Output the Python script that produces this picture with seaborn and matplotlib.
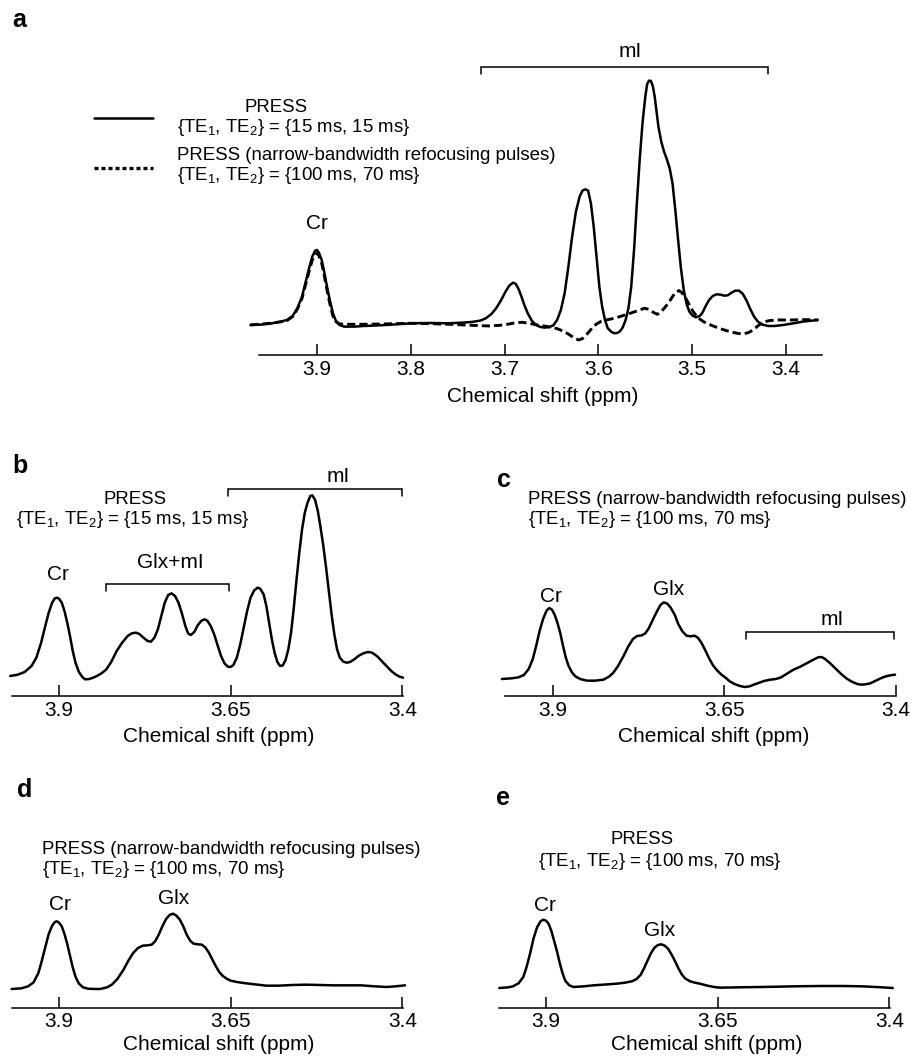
import numpy as np
import pandas as pd
import matplotlib
matplotlib.use("Agg")
import matplotlib.pyplot as plt
from matplotlib.lines import Line2D
import seaborn as sns

# ---------------- data ----------------
# Panel a: PRESS TE 15/15 (solid) and narrow-band PRESS TE 100/70 (dashed)
a_ppm_solid = [3.971, 3.960, 3.950, 3.940, 3.932, 3.926, 3.921, 3.916, 3.912, 3.908,
               3.905, 3.902, 3.900, 3.898, 3.895, 3.892, 3.889, 3.886, 3.883, 3.880,
               3.876, 3.871, 3.860, 3.850, 3.840, 3.820, 3.800, 3.780, 3.760, 3.745,
               3.735, 3.726, 3.720, 3.714, 3.709, 3.704, 3.699, 3.695, 3.691, 3.688,
               3.685, 3.682, 3.679, 3.675, 3.671, 3.667, 3.662, 3.657, 3.652, 3.648,
               3.644, 3.640, 3.636, 3.632, 3.628, 3.624, 3.620, 3.617, 3.614, 3.611,
               3.608, 3.605, 3.602, 3.599, 3.596, 3.593, 3.590, 3.586, 3.583, 3.580,
               3.577, 3.574, 3.571, 3.568, 3.565, 3.562, 3.559, 3.556, 3.553, 3.550,
               3.548, 3.546, 3.544, 3.542, 3.540, 3.538, 3.536, 3.533, 3.530, 3.527,
               3.524, 3.521, 3.518, 3.515, 3.512, 3.509, 3.506, 3.503, 3.500, 3.496,
               3.492, 3.489, 3.486, 3.482, 3.478, 3.474, 3.470, 3.466, 3.462, 3.458,
               3.454, 3.450, 3.446, 3.442, 3.438, 3.434, 3.430, 3.425, 3.419, 3.412,
               3.403, 3.392, 3.382, 3.366]
a_solid = [-5, -4, -1, 4, 10, 22, 45, 80, 125, 170,
           200, 218, 220, 212, 190, 150, 105, 65, 30, 8,
           -5, -10, -10, -8, -7, -4, 0, 1, 0, 2,
           4, 8, 15, 28, 45, 68, 95, 113, 122, 118,
           102, 80, 55, 28, 8, -4, -11, -13, -11, -6,
           10, 40, 90, 170, 260, 335, 380, 398, 402, 398,
           360, 290, 200, 110, 50, 10, -15, -26, -30, -29,
           -24, -12, 10, 45, 110, 220, 360, 490, 600, 680,
           718, 728, 727, 712, 680, 635, 590, 545, 515, 492,
           465, 420, 340, 250, 165, 100, 58, 35, 24, 18,
           22, 32, 50, 70, 82, 87, 86, 83, 84, 92,
           98, 98, 88, 68, 42, 20, 5, -4, -8, -8,
           -5, 0, 5, 10]
a_ppm_dash = [3.971, 3.950, 3.940, 3.932, 3.926, 3.921, 3.916, 3.912, 3.908, 3.905,
              3.902, 3.900, 3.898, 3.895, 3.892, 3.889, 3.886, 3.883, 3.880, 3.876,
              3.870, 3.850, 3.830, 3.800, 3.780, 3.758, 3.735, 3.717, 3.705, 3.695,
              3.688, 3.681, 3.674, 3.667, 3.660, 3.652, 3.644, 3.637, 3.631, 3.626,
              3.621, 3.617, 3.612, 3.607, 3.602, 3.597, 3.590, 3.583, 3.575, 3.566,
              3.558, 3.551, 3.546, 3.541, 3.537, 3.533, 3.529, 3.525, 3.521, 3.517,
              3.514, 3.511, 3.507, 3.503, 3.499, 3.494, 3.488, 3.482, 3.476, 3.468,
              3.460, 3.452, 3.446, 3.440, 3.435, 3.430, 3.425, 3.418, 3.410, 3.395,
              3.380, 3.366]
a_dash = [-5, 0, 4, 8, 20, 42, 75, 118, 160, 190,
          207, 210, 203, 180, 140, 95, 55, 22, 5, -2,
          -3, -3, -2, 0, -1, -3, -6, -8, -6, -2,
          2, 3, 0, -4, -7, -11, -16, -24, -34, -44,
          -50, -46, -32, -15, -2, 6, 11, 15, 22, 30,
          38, 45, 42, 32, 27, 35, 48, 62, 80, 95,
          98, 92, 76, 55, 35, 17, 5, -3, -10, -18,
          -25, -30, -32, -28, -20, -8, 3, 8, 10, 10,
          11, 10]

# Panel b: PRESS TE 15/15
b_ppm = [3.971, 3.960, 3.950, 3.940, 3.933, 3.926, 3.920, 3.915, 3.910, 3.906,
         3.903, 3.900, 3.896, 3.892, 3.888, 3.884, 3.880, 3.876, 3.871, 3.866,
         3.862, 3.856, 3.850, 3.845, 3.838, 3.831, 3.824, 3.816, 3.808, 3.800,
         3.794, 3.788, 3.783, 3.777, 3.771, 3.766, 3.761, 3.756, 3.751, 3.746,
         3.741, 3.736, 3.731, 3.726, 3.721, 3.716, 3.712, 3.708, 3.703, 3.698,
         3.693, 3.688, 3.684, 3.679, 3.674, 3.669, 3.664, 3.659, 3.654, 3.650,
         3.646, 3.641, 3.636, 3.631, 3.626, 3.621, 3.616, 3.611, 3.607, 3.602,
         3.598, 3.594, 3.590, 3.586, 3.582, 3.578, 3.574, 3.570, 3.566, 3.562,
         3.558, 3.554, 3.550, 3.546, 3.542, 3.538, 3.534, 3.531, 3.527, 3.523,
         3.519, 3.515, 3.511, 3.507, 3.503, 3.499, 3.495, 3.491, 3.486, 3.481,
         3.476, 3.470, 3.464, 3.457, 3.450, 3.444, 3.437, 3.430, 3.423, 3.416,
         3.410, 3.404, 3.399]
b_sig = [0, 4, 12, 30, 55, 100, 150, 190, 220, 233,
         235, 232, 220, 195, 160, 120, 75, 40, 12, -3,
         -10, -9, -5, 0, 8, 20, 42, 75, 100, 120,
         128, 130, 126, 115, 105, 103, 115, 140, 180, 220,
         243, 248, 240, 220, 188, 150, 128, 123, 132, 152,
         165, 170, 166, 150, 125, 92, 60, 38, 28, 27,
         33, 55, 95, 145, 195, 235, 256, 265, 262, 245,
         210, 160, 110, 70, 42, 30, 32, 48, 80, 130,
         205, 290, 370, 440, 490, 520, 540, 542, 528, 495,
         445, 390, 325, 255, 185, 125, 80, 55, 43, 40,
         42, 50, 60, 68, 72, 70, 60, 45, 30, 15,
         5, -2, -5]

# Panel c: narrow-band PRESS TE 100/70
c_ppm = [3.974, 3.960, 3.950, 3.942, 3.935, 3.929, 3.924, 3.919, 3.914, 3.909,
         3.905, 3.901, 3.897, 3.893, 3.889, 3.885, 3.881, 3.877, 3.872, 3.867,
         3.860, 3.850, 3.838, 3.826, 3.818, 3.812, 3.805, 3.797, 3.790, 3.783,
         3.777, 3.770, 3.765, 3.760, 3.754, 3.748, 3.743, 3.738, 3.733, 3.728,
         3.722, 3.717, 3.711, 3.705, 3.699, 3.693, 3.688, 3.683, 3.678, 3.672,
         3.666, 3.660, 3.654, 3.648, 3.642, 3.635, 3.627, 3.620, 3.613, 3.607,
         3.600, 3.592, 3.583, 3.575, 3.568, 3.560, 3.549, 3.540, 3.529, 3.520,
         3.513, 3.508, 3.503, 3.496, 3.488, 3.480, 3.472, 3.464, 3.456, 3.450,
         3.444, 3.437, 3.430, 3.423, 3.416, 3.408, 3.401]
c_sig = [0, 2, 5, 12, 30, 60, 100, 145, 180, 205,
         213, 208, 192, 168, 138, 100, 65, 40, 20, 8,
         0, -5, -5, -2, 7, 18, 38, 68, 97, 120,
         129, 131, 137, 152, 178, 203, 222, 230, 226, 214,
         192, 165, 143, 130, 128, 130, 123, 108, 88, 62,
         40, 25, 13, 4, -7, -15, -21, -24, -22, -17,
         -12, -6, -2, 0, 4, 14, 28, 36, 48, 58,
         65, 66, 60, 48, 32, 16, 2, -8, -15, -17,
         -16, -13, -6, 1, 7, 11, 13]

# Panel d: narrow-band PRESS TE 100/70
d_ppm = [3.969, 3.955, 3.945, 3.937, 3.930, 3.925, 3.920, 3.915, 3.910, 3.906,
         3.903, 3.900, 3.896, 3.892, 3.888, 3.884, 3.880, 3.876, 3.871, 3.865,
         3.858, 3.848, 3.840, 3.830, 3.823, 3.815, 3.806, 3.799, 3.792, 3.785,
         3.778, 3.771, 3.765, 3.760, 3.755, 3.749, 3.744, 3.739, 3.734, 3.729,
         3.724, 3.719, 3.714, 3.709, 3.704, 3.698, 3.692, 3.687, 3.682, 3.677,
         3.672, 3.667, 3.662, 3.656, 3.650, 3.641, 3.631, 3.615, 3.598, 3.580,
         3.560, 3.540, 3.520, 3.500, 3.480, 3.460, 3.440, 3.423, 3.410, 3.396]
d_sig = [0, 2, 8, 20, 48, 85, 125, 165, 190, 201,
         203, 199, 188, 165, 135, 100, 65, 37, 16, 5,
         1, 0, 0, 5, 13, 30, 58, 85, 108, 123,
         130, 131, 133, 143, 162, 190, 210, 222, 226, 220,
         208, 188, 163, 145, 136, 134, 133, 125, 110, 90,
         70, 52, 40, 31, 25, 21, 18, 14, 10, 10,
         12, 13, 12, 11, 11, 11, 8, 6, 8, 11]

# Panel e: PRESS TE 100/70
e_ppm = [3.968, 3.955, 3.948, 3.940, 3.933, 3.928, 3.923, 3.918, 3.913, 3.908,
         3.904, 3.900, 3.896, 3.892, 3.888, 3.884, 3.880, 3.876, 3.872, 3.866,
         3.860, 3.845, 3.831, 3.810, 3.797, 3.785, 3.775, 3.768, 3.762, 3.757,
         3.752, 3.747, 3.742, 3.737, 3.732, 3.727, 3.722, 3.717, 3.712, 3.707,
         3.702, 3.697, 3.690, 3.683, 3.676, 3.665, 3.655, 3.647, 3.620, 3.588,
         3.560, 3.540, 3.500, 3.467, 3.440, 3.419, 3.395]
e_sig = [0, 2, 5, 14, 33, 65, 105, 150, 182, 200,
         205, 202, 192, 170, 140, 110, 75, 45, 22, 8,
         3, 5, 8, 11, 13, 16, 20, 27, 40, 60,
         83, 105, 121, 129, 131, 127, 117, 100, 80, 58,
         40, 28, 20, 16, 13, 7, 3, 1, 2, 3,
         4, 5, 6, 6, 5, 3, 0]

a_ticks = [3.9, 3.8, 3.7, 3.6, 3.5, 3.4]
a_ticklabels = ["3.9", "3.8", "3.7", "3.6", "3.5", "3.4"]
bcde_ticks = [3.9, 3.65, 3.4]
bcde_ticklabels = ["3.9", "3.65", "3.4"]

# peak labels: (text, ppm, signal)
a_labels = [("Cr", 3.900, 300), ("mI", 3.566, 814)]
b_labels = [("Cr", 3.901, 305), ("Glx+mI", 3.738, 340), ("mI", 3.493, 600)]
c_labels = [("Cr", 3.903, 248), ("Glx", 3.731, 268), ("mI", 3.493, 178)]
d_labels = [("Cr", 3.899, 253), ("Glx", 3.733, 273)]
e_labels = [("Cr", 3.901, 248), ("Glx", 3.734, 173)]
# brackets: (ppm start, ppm end, signal level)
a_brackets = [(3.725, 3.419, 768)]
b_brackets = [(3.831, 3.653, 277), (3.654, 3.400, 560)]
c_brackets = [(3.618, 3.402, 140)]

TE15 = "{TE$_1$, TE$_2$} = {15 ms, 15 ms}"
TE100 = "{TE$_1$, TE$_2$} = {100 ms, 70 ms}"
NB = "PRESS (narrow-bandwidth refocusing pulses)"

# ---------------- styling ----------------
sns.set_theme(style="white")
plt.rcParams["font.family"] = ["Liberation Sans", "DejaVu Sans"]
plt.rcParams["mathtext.fontset"] = "custom"
plt.rcParams["mathtext.rm"] = "Liberation Sans"
plt.rcParams["mathtext.it"] = "Liberation Sans:italic"
plt.rcParams["text.color"] = "black"
plt.rcParams["axes.labelcolor"] = "black"
plt.rcParams["xtick.color"] = "black"
plt.rcParams["xtick.labelcolor"] = "black"

W, H = 912, 1057
fig = plt.figure(figsize=(W / 100, H / 100), dpi=100)
fig.patch.set_facecolor("white")

LW = 1.8
TXT = 13.4
LAB = 15


def fx(x):
    return x / W


def fy(y):
    return 1 - y / H


def make_axes(ppm_lim, x39, pxpp, base_y, axis_y, sig_top, spine, ticks, ticklabels):
    left = x39 - (ppm_lim[0] - 3.9) * pxpp
    right = x39 + (3.9 - ppm_lim[1]) * pxpp
    sig_bottom = -(axis_y - base_y) * 3
    top = base_y - sig_top / 3
    ax = fig.add_axes([fx(left), fy(axis_y), (right - left) / W, (axis_y - top) / H])
    ax.set_xlim(ppm_lim)
    ax.set_ylim(sig_bottom, sig_top)
    ax.set_facecolor("none")
    sns.despine(ax=ax, left=True, top=True, right=True)
    ax.set_yticks([])
    ax.spines["bottom"].set_bounds(spine[0], spine[1])
    ax.spines["bottom"].set_linewidth(1.1)
    ax.spines["bottom"].set_color("black")
    ax.set_xticks(ticks)
    ax.set_xticklabels(ticklabels)
    ax.tick_params(axis="x", direction="in", length=8, width=1.1, colors="black",
                   labelsize=LAB, pad=3.5, bottom=True)
    return ax


def finish(ax, labels, brackets, xlabel_px, xlabel_y):
    for t, x, y in labels:
        ax.text(x, y, t, ha="center", va="center", fontsize=LAB, clip_on=False)
    for x0, x1, y in brackets:
        ax.plot([x0, x0, x1, x1], [y - 21, y, y, y - 21], color="black", lw=1.1,
                clip_on=False, solid_joinstyle="miter")
    ax.set_xlabel("Chemical shift (ppm)", fontsize=LAB)
    pos = ax.get_position()
    ax.xaxis.label.set_va("center")
    ax.xaxis.set_label_coords((fx(xlabel_px) - pos.x0) / pos.width,
                              (fy(xlabel_y) - pos.y0) / pos.height)


def spectrum(ax, x, y, **kw):
    sns.lineplot(x=x, y=y, ax=ax, color="black", sort=False, clip_on=False, **kw)
    for ln in ax.get_lines():
        ln.set_solid_joinstyle("round")
        ln.set_solid_capstyle("round")


# ---- panel a
axa = make_axes((3.975, 3.355), 317, 938, 323.3, 355, 900, (3.962, 3.362),
                a_ticks, a_ticklabels)
spectrum(axa, a_ppm_dash, a_dash, lw=2.1, linestyle=(0, (2.8, 1.4)))
spectrum(axa, a_ppm_solid, a_solid, lw=LW)
finish(axa, a_labels, a_brackets, 543, 396)

# legend of panel a (drawn manually)
fig.add_artist(Line2D([fx(94), fx(153)], [fy(118), fy(118)], color="black", lw=LW))
fig.add_artist(Line2D([fx(94), fx(153)], [fy(168), fy(168)], color="black", lw=2.4,
                      linestyle=(0, (1.2, 0.9))))
fig.text(fx(276), fy(107), "PRESS", ha="center", va="center", fontsize=TXT)
fig.text(fx(177), fy(127), TE15, ha="left", va="center", fontsize=TXT)
fig.text(fx(177), fy(155), NB, ha="left", va="center", fontsize=TXT)
fig.text(fx(177), fy(175), TE100, ha="left", va="center", fontsize=TXT)

# ---- panel b
axb = make_axes((3.975, 3.395), 59, 686.6, 676, 696, 650, (3.969, 3.3985),
                bcde_ticks, bcde_ticklabels)
spectrum(axb, b_ppm, b_sig, lw=LW)
finish(axb, b_labels, b_brackets, 219, 736)
fig.text(fx(135), fy(499), "PRESS", ha="center", va="center", fontsize=TXT)
fig.text(fx(133), fy(520), TE15, ha="center", va="center", fontsize=TXT)

# ---- panel c
axc = make_axes((3.978, 3.395), 552.7, 686, 679, 696, 650, (3.969, 3.3995),
                bcde_ticks, bcde_ticklabels)
spectrum(axc, c_ppm, c_sig, lw=LW)
finish(axc, c_labels, c_brackets, 714, 736)
fig.text(fx(528), fy(500), NB, ha="left", va="center", fontsize=TXT)
fig.text(fx(528), fy(520), TE100, ha="left", va="center", fontsize=TXT)

# ---- panel d
axd = make_axes((3.975, 3.392), 59, 686.6, 989, 1007.5, 450, (3.969, 3.3985),
                bcde_ticks, bcde_ticklabels)
spectrum(axd, d_ppm, d_sig, lw=LW)
finish(axd, d_labels, [], 219, 1044)
fig.text(fx(42), fy(849), NB, ha="left", va="center", fontsize=TXT)
fig.text(fx(42), fy(869), TE100, ha="left", va="center", fontsize=TXT)

# ---- panel e
axe = make_axes((3.975, 3.392), 546, 686.7, 988, 1007.5, 450, (3.968, 3.399),
                bcde_ticks, bcde_ticklabels)
spectrum(axe, e_ppm, e_sig, lw=LW)
finish(axe, e_labels, [], 707, 1044)
fig.text(fx(642), fy(840), "PRESS", ha="center", va="center", fontsize=TXT)
fig.text(fx(660), fy(862), TE100, ha="center", va="center", fontsize=TXT)

# ---- panel letters
for letter, x, y in [("a", 12, 20), ("b", 12, 466), ("c", 497, 480),
                     ("d", 17, 790), ("e", 496, 798)]:
    fig.text(fx(x), fy(y), letter, ha="left", va="center", fontsize=18,
             fontweight="bold")

fig.savefig("out.png", dpi=100, facecolor="white")
